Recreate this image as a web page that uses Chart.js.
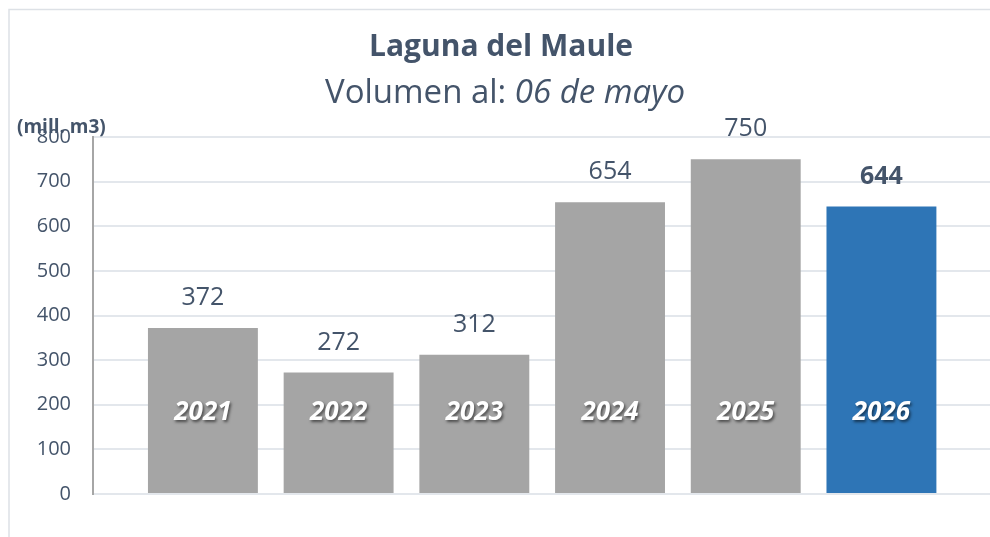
<!DOCTYPE html>
<html>
<head>
<meta charset="utf-8">
<script src="https://cdn.jsdelivr.net/npm/chart.js@4"></script>
<style>
  html, body { margin: 0; padding: 0; background: #fff; }
  #wrap { width: 990px; height: 537px; position: relative; }
</style>
</head>
<body>
<div id="wrap"><canvas id="grafico" width="990" height="537"></canvas></div>
<script>
  // datos
  const years = ['2021', '2022', '2023', '2024', '2025', '2026'];
  const volumes = [372, 272, 312, 654, 750, 644];
  const barColors = ['#a5a5a5', '#a5a5a5', '#a5a5a5', '#a5a5a5', '#a5a5a5', '#2e75b6'];
  const yTicks = [0, 100, 200, 300, 400, 500, 600, 700, 800];

  const textColor = '#44546a';
  const fontName = '"Open Sans", "Noto Sans", sans-serif';

  const points = volumes.map(function (v, i) { return { x: i, y: v }; });

  // marco, titulos, etiquetas
  const decoPlugin = {
    id: 'deco',
    beforeDraw: function (chart) {
      const c = chart.ctx;
      c.save();
      c.strokeStyle = '#dde1e6';
      c.lineWidth = 1.5;
      c.beginPath();
      c.moveTo(9, 537);
      c.lineTo(9, 9.5);
      c.lineTo(990, 9.5);
      c.stroke();
      c.restore();
    },
    afterDatasetsDraw: function (chart) {
      const c = chart.ctx;
      const meta = chart.getDatasetMeta(0);
      const ys = chart.scales.y;
      c.save();
      c.textAlign = 'center';
      c.textBaseline = 'middle';

      // valores
      meta.data.forEach(function (bar, i) {
        const last = i === volumes.length - 1;
        c.fillStyle = textColor;
        c.font = (last ? 'bold ' : '') + '25px ' + fontName;
        c.fillText(String(volumes[i]), bar.x, bar.y - 30);
      });

      // años dentro de las barras
      meta.data.forEach(function (bar, i) {
        c.save();
        c.shadowColor = 'rgba(0,0,0,0.55)';
        c.shadowBlur = 3;
        c.shadowOffsetX = 1.5;
        c.shadowOffsetY = 1.5;
        c.fillStyle = '#ffffff';
        c.font = 'italic bold 26px ' + fontName;
        c.fillText(years[i], bar.x, ys.getPixelForValue(182));
        c.restore();
      });

      // titulo
      c.fillStyle = textColor;
      c.font = 'bold 30px ' + fontName;
      c.fillText('Laguna del Maule', 501, 47);

      const a = 'Volumen al: ';
      const b = '06 de mayo';
      c.font = '33px ' + fontName;
      const wa = c.measureText(a).width;
      c.font = 'italic 33px ' + fontName;
      const wb = c.measureText(b).width;
      let x0 = 505 - (wa + wb) / 2;
      c.textAlign = 'left';
      c.font = '33px ' + fontName;
      c.fillText(a, x0, 94);
      c.font = 'italic 33px ' + fontName;
      c.fillText(b, x0 + wa, 94);

      // unidad
      c.font = 'bold 19px ' + fontName;
      c.fillText('(mill. m3)', 17, 128);
      c.restore();
    }
  };

  new Chart(document.getElementById('grafico'), {
    type: 'bar',
    data: {
      datasets: [{
        data: points,
        backgroundColor: barColors,
        borderWidth: 0,
        barPercentage: 0.81,
        categoryPercentage: 1
      }]
    },
    options: {
      responsive: false,
      animation: false,
      layout: { padding: { top: 137, bottom: 43, left: 0, right: 0 } },
      plugins: { legend: { display: false }, tooltip: { enabled: false } },
      scales: {
        x: {
          type: 'linear',
          display: false,
          offset: false,
          min: -0.81,
          max: 5.8,
          afterBuildTicks: function (axis) {
            axis.ticks = years.map(function (y, i) { return { value: i }; });
          }
        },
        y: {
          min: 0,
          max: 800,
          afterBuildTicks: function (axis) {
            axis.ticks = yTicks.map(function (v) { return { value: v }; });
          },
          afterFit: function (axis) { axis.width = 93; },
          ticks: {
            color: textColor,
            font: { family: fontName, size: 20 },
            padding: 22
          },
          grid: { color: '#e3e7ec', lineWidth: 2, drawTicks: false },
          border: { color: '#a6a6a6', width: 2 }
        }
      }
    },
    plugins: [decoPlugin]
  });
</script>
</body>
</html>
